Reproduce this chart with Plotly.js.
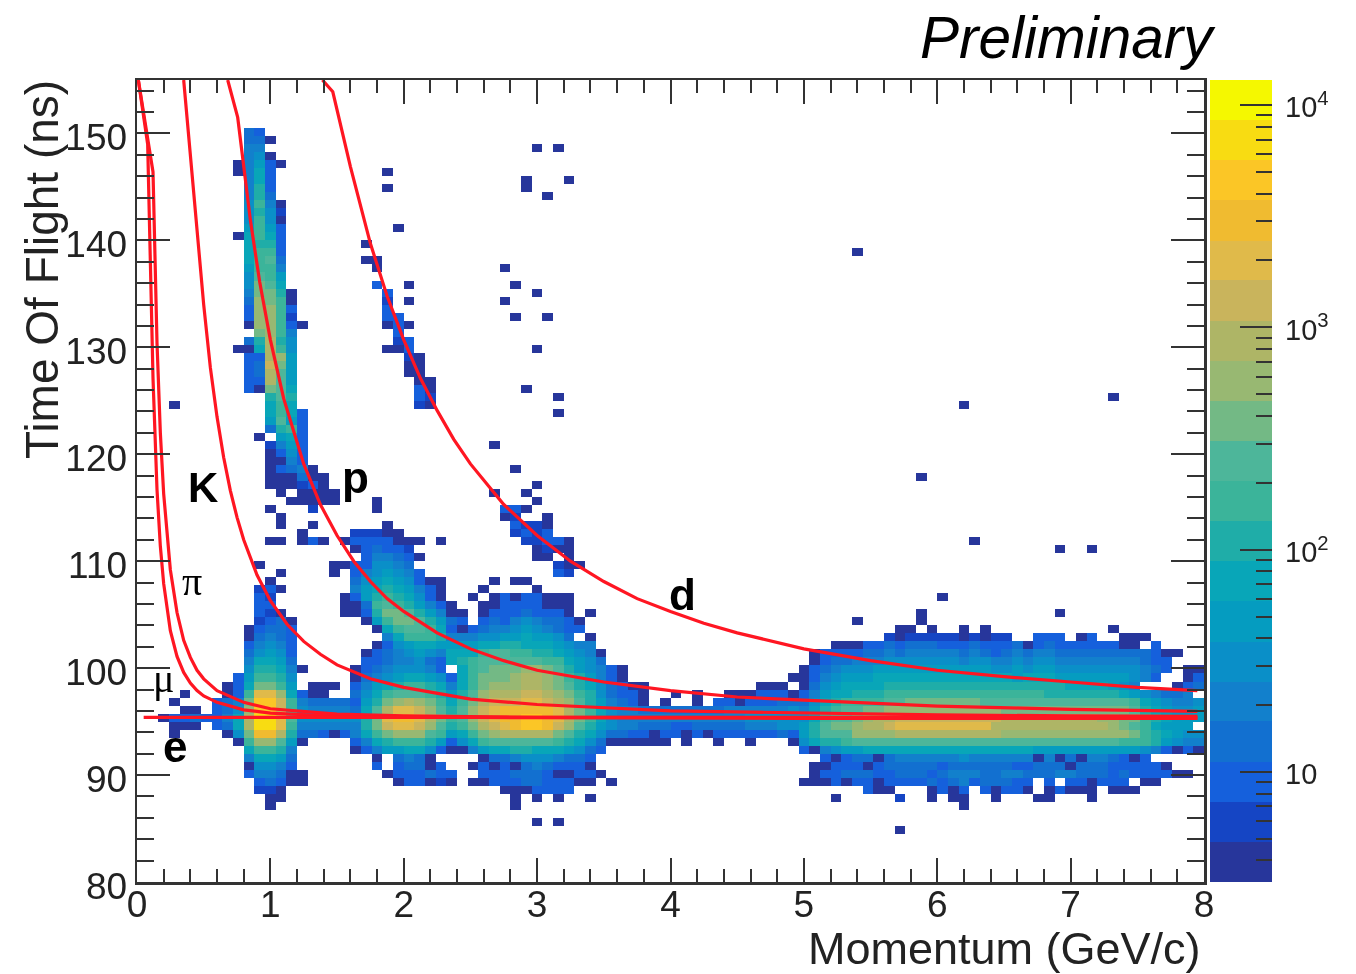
<!DOCTYPE html>
<html>
<head>
<meta charset="utf-8">
<script src="https://cdn.plot.ly/plotly-3.0.1.min.js"></script>
<style>
html,body{margin:0;padding:0;background:#fff}
#plot{width:1356px;height:974px;filter:blur(0.7px)}
</style>
</head>
<body>
<div id="plot"></div>
<script>
// Histogram cells. Each entry: "row col:levels col:levels ..."
// row = time-of-flight bin (0.75 ns wide, from 80 ns), col = momentum bin (0.08 GeV/c wide).
// One character per cell: 1-9,a-k = colour band 1..20 of the palette.
const protonBandRows = [
"93 10:43","92 10:441","91 10:55","90 10:561","89 9:15731","88 9:1583","87 10:583","86 10:593","85 10:594",
"84 10:6a51","83 10:6962","82 10:6a61","81 10:7a73","80 9:18a83","79 10:8993","78 10:8aa3","77 10:8ab4",
"76 10:7aa5","75 10:6ba7","74 10:6cb8","73 10:5cc91","72 10:4dca1","71 10:3dda3","70 10:3dda2","69 10:1dda31",
"68 11:cda5","67 10:49e96","66 9:118ea6","65 10:33ed7","64 10:34fc7","63 10:34eb7","62 10:33eb7","61 10:31cb8",
"60 12:9b9","59 12:8a8","58 12:8a83","57 12:7b73","56 12:49a3","55 11:1 13:783","54 12:2573","53 12:1363",
"52 12:1153","51 12:13451","50 12:111411","49 12:111231","48 13:1 15:1111","47 14:11111","46 12:1 16:2",
"45 13:1","44 13:1 16:1","43 15:1","42 12:11 15:131"];
const deuteronRows = [
"88 23:1","86 23:1","81 24:1","79 21:1","77 21:11","76 22:1","74 22:3 25:1","73 23:3","72 23:2 25:1","71 23:3",
"70 23:33","69 23:131","68 24:3","67 24:23","66 23:113","65 25:21","64 25:11","63 25:11","62 26:11","61 26:31",
"60 26:32","59 26:21",
"49 37:1","48 33:1 36:1","47 37:1","46 34:331","45 34:12 38:1","44 35:3221","43 35:2323","42 28:1 36:22331",
"41 37:1211","40 37:11 40:1"];
const strayRows = [
"91 37:1 39:1","87 36:1 40:1","86 36:1","85 38:1","78 67:1","76 34:1","74 35:1","73 37:1","72 34:1","70 35:1 38:1",
"66 37:1","61 36:1","60 39:1 91:1","59 3:1 77:1","58 39:1","54 33:1","51 35:1","50 73:1","42 78:1","41 86:1 89:1",
"35 75:1","33 73:1 86:1","32 67:1 73:1"];
const kaonPeakRows = [
"39 11:1","38 13:1","37 12:1","36 11:231","35 11:32","34 11:33","33 11:321","32 11:2341","31 10:13443","30 10:14543",
"29 10:35653","28 10:46763","27 10:58874","26 10:699851","25 9:37aa96","24 8:138cca7 16:111","23 4:1 8:13aggd8311",
"22 3:1 7:345ciifa54444","21 4:11 7:346diifa65555","20 2:13343358ejjgb66666","19 3:111 7:348ejjga55555",
"18 3:1 8:16chhe944313","17 9:1addb71","16 10:8aa95","15 10:58874","14 10:16653","13 10:355411","12 11:34311",
"11 11:221","10 12:11","9 12:1"];
const protonPeakRows = [
"47 22:1","46 22:1","44 23:1","43 20:22211","42 19:13333111 28:1","41 20:134332","40 21:355431","39 18:11 20:336654",
"38 18:1 20:3567653","37 20:467876311","36 20:578987531","35 19:1379a98631","34 19:114aba97531","33 19:1139ccb97531",
"32 21:17accb9743","31 22:18abba865","30 23:58aaa9765","29 22:1367887776","28 21:1345676556","27 21:3345564357",
"26 20:134566653","25 20:1456788765","24 20:35789aa987","23 20:468abbba97","22 20:379cdedca8","21 20:48beggfdb9",
"20 20:69cghhgeca","19 20:59cfggfdba","18 20:58acdddba8","17 20:3589aaa973","16 20:1357788633","15 22:1 24:4541",
"14 22:3 24:34413","13 23:1333433","12 24:133121"];
const pionPeakRows = [
"39 39:211","38 39:32","37 33:1 35:11","36 32:1 37:1","35 31:1 33:13133111","34 29:1 32:113333111",
"33 29:1 32:133343331 42:1","32 32:3435654431","31 29:31 31:34556765433","30 29:555667787764 42:1",
"29 29:77788998887655","28 29:888abbaa9987651","27 29:89abbbbbbaa8764","26 30:8abcccddcb976531",
"25 29:38acccdeedca97531","24 29:58acdddeedcb9864311","23 29:79bdeeeffedca964331","22 29:8acefffggfedb975431",
"21 29:9bdfghhhhhgeca8655444","20 29:abdfghhiihgeca865","19 29:9acefghiihfdb97655444","18 29:78acdeeeeecb986443313",
"17 29:368abbbbbba9864111111","16 29:115788998887643","15 32:14456665443","14 31:131314543331",
"13 32:333444311331","12 29:1 31:113334433311 44:1","11 34:1113333","10 35:1 37:1 39:1 42:1","9 35:1","7 37:1 39:1"];
const bridgeRows = [
"25 61:11","24 58:111","23 50:1 52:1 55:1113331","22 49:1 52:1 54:33133344","21 50:444445555556",
"20 46:5555555555566666","19 50:334444455566","18 50:313133333343","17 51:1 54:1 57:1 61:1"];
const highMomentumRows = [
"31 71:11 74:1 77:1 79:1 91:1","30 70:212222212122 84:333 88:13 92:111","29 65:11133434443334333413433333311 95:3",
"28 63:13333445455555454345455444444444311","27 63:1344555666666656655656655555555433",
"26 62:13456667777777777766767766666666543 98:11",
"25 62:1356777888888888888878887777777653 98:13",
"24 62:14678888999999999999999998888765 97:134",
"23 62:35788999aaaaaaaaaaaaaaa99999998765445","22 62:4689aaaabbcccccccbbbbbbbbbbbbbba876556",
"21 62:579abbccdddddddddddccccccccccccb987667","20 62:68abbcdeeffffffffffeeeeeeeeeddcca98777",
"19 62:79bccdeefgggggggggeeeeeeeeeeedcba8777","18 62:79bbbddddeeeeeeeeeeddddddddddddca98766",
"17 62:6899abbbbbbbbbbbbbbbbbbbbbbbbbaaa976555","16 62:31567788888888888888887777777777653131",
"15 64:3 65:134414555555655555515141554313","14 63:1133313444443444444334441444333331",
"13 63:133444334443455544554445544434333311",
"12 62:111313313333 74:4345344433 85:3 87:33 89:1333 94:11",
"11 68:311 74:1313 79:31331 85:13111 91:111","10 65:1 71:2 74:1 76:11 80:1 84:11 89:1","9 77:1","6 71:1"];

// Representative count for each colour band
const bandCounts = [4,6,9,14,21,31,47,72,109,165,250,380,575,870,1320,2000,3030,4590,6960,10500];
// Edges of the colour bands on the count scale
const bandEdges = [3.2,4.84,7.35,11.1,16.9,25.5,38.6,58.6,88.7,134.6,203.7,308,468,708,1074,1626,2460,3733,5649,8570,12970];
const bandColors = ["#27369b","#1545c4","#1560dc","#1270d0","#1280cc","#0a8fc8","#059cc0","#08a6b8","#1fada8","#3bb49a",
"#4db69a","#73b985","#98b872","#aeb566","#c9b45c","#e0ba4a","#f0bb30","#fbc626","#f8dc12","#f5f800"];
const countTicks = [10,100,1000,10000];
const countTickText = ["10","10<sup>2</sup>","10<sup>3</sup>","10<sup>4</sup>"];
const countMinorTicks = [4,5,6,7,8,9,20,30,40,50,60,70,80,90,200,300,400,500,600,700,800,900,2000,3000,4000,5000,6000,7000,8000,9000];

// Red expected-time curves
const eP   = [0.05,7.95];
const eT   = [95.4,95.4];
const muP  = [0.01,0.08,0.12,0.15,0.175,0.2,0.25,0.3,0.35,0.4,0.45,0.5,0.6,0.8,1,1.5,2,3,5,7.95];
const muT  = [155,149,127.1,116.7,111.4,107.9,103.5,101.1,99.6,98.6,97.9,97.4,96.8,96.1,95.8,95.5,95.43,95.36,95.31,95.3];
const piP  = [0.01,0.12,0.15,0.175,0.2,0.25,0.3,0.35,0.4,0.45,0.5,0.6,0.8,1,1.5,2,3,5,7.95];
const piT  = [155,146.4,130.4,122,116.3,109.2,105.2,102.6,101,99.8,99,97.9,96.8,96.2,95.7,95.53,95.4,95.33,95.3];
const kP   = [0.35,0.5,0.55,0.6,0.65,0.7,0.75,0.8,0.9,1,1.125,1.25,1.375,1.5,1.75,2,2.5,3,4,5,6,7,7.95];
const kT   = [155,134,128.1,123.5,119.7,116.6,114.1,112,108.7,106.3,104.1,102.5,101.3,100.3,99,98.2,97.1,96.6,96,95.8,95.62,95.54,95.5];
const pP   = [0.68,0.755,0.85,0.92,1,1.1,1.25,1.375,1.5,1.625,1.75,1.875,2,2.25,2.5,2.75,3,3.5,4,4.5,5,6,7,7.95];
const pT   = [155,151.5,141.9,136.1,130.7,125.2,119.1,115.3,112.4,110,108.1,106.5,105.3,103.3,101.8,100.7,99.8,98.7,97.9,97.3,97,96.45,96.15,95.95];
const dP   = [1.39,1.468,1.6,1.75,1.875,2,2.125,2.25,2.375,2.5,2.75,3,3.25,3.5,3.75,4,4.25,4.5,5,5.5,6,6.5,7,7.5,7.95];
const dT   = [155,153.9,146.9,139.7,134.8,130.7,127.1,124.1,121.4,119.1,115.3,112.4,110,108.1,106.5,105.3,104.2,103.3,101.8,100.7,99.8,99.2,98.7,98.2,97.9];

const NBINS = 100;
const bandChars = "123456789abcdefghijk";
const z = Array.from({length:NBINS},()=>Array(NBINS).fill(null));
[protonBandRows,deuteronRows,strayRows,kaonPeakRows,protonPeakRows,pionPeakRows,bridgeRows,highMomentumRows].forEach(group=>{
  group.forEach(entry=>{
    const parts = entry.split(" ");
    const row = +parts[0];
    parts.slice(1).forEach(seg=>{
      const [col,levels] = seg.split(":");
      [...levels].forEach((ch,i)=>{
        const c = +col+i;
        if(c<NBINS) z[row][c] = Math.log10(bandCounts[bandChars.indexOf(ch)]);
      });
    });
  });
});

const zMin = Math.log10(bandEdges[0]), zMax = Math.log10(bandEdges[bandEdges.length-1]);
const colorscale = [];
bandColors.forEach((c,i)=>{
  colorscale.push([i/bandColors.length,c]);
  colorscale.push([(i+1)/bandColors.length,c]);
});

const curve = (x,y)=>({type:"scatter",mode:"lines",x,y,hoverinfo:"skip",
  line:{color:"#ff1622",width:3.2,shape:"linear"}});

const traces = [
 {type:"heatmap",z,x0:0.04,dx:0.08,y0:80.375,dy:0.75,colorscale,zmin:zMin,zmax:zMax,showscale:false,hoverongaps:false,zsmooth:false},
 curve(dP,dT),curve(pP,pT),curve(kP,kT),curve(piP,piT),curve(muP,muT),curve(eP,eT),
 {type:"heatmap",xaxis:"x2",yaxis:"y2",x:[0,1],y:bandEdges,z:bandCounts.map(v=>[Math.log10(v)]),colorscale,zmin:zMin,zmax:zMax,showscale:false,hoverinfo:"skip"}
];

const W=1356,H=974;
const ink="#333333";
const sans="Liberation Sans, Arial, sans-serif";
const tickFont={family:sans,size:37,color:"#222"};
const label=(text,x,y,size,family,weight)=>({text,x,y,xref:"x",yref:"y",showarrow:false,
  font:{family,size,color:"#000",weight:weight||400}});

const layout = {
 width:W,height:H,paper_bgcolor:"#fff",plot_bgcolor:"#fff",showlegend:false,
 margin:{l:0,r:0,t:0,b:0,autoexpand:false},
 xaxis:{domain:[137/W,1204/W],range:[0,8],tickmode:"array",tickvals:[0,1,2,3,4,5,6,7,8],ticks:"inside",ticklen:24,tickwidth:2,
   tickcolor:ink,linecolor:ink,linewidth:2.5,mirror:"ticks",showgrid:false,zeroline:false,tickfont:tickFont,ticklabelstandoff:-12,
   minor:{dtick:0.2,tick0:0,ticks:"inside",ticklen:13,tickwidth:2,tickcolor:ink,showgrid:false},anchor:"y"},
 yaxis:{domain:[1-882/H,1-80/H],range:[80,155],tickmode:"array",tickvals:[80,90,100,110,120,130,140,150],ticks:"inside",ticklen:33,tickwidth:2,
   tickcolor:ink,linecolor:ink,linewidth:2.5,mirror:"ticks",showgrid:false,zeroline:false,tickfont:tickFont,ticklabelshift:4,
   minor:{dtick:2,tick0:80,ticks:"inside",ticklen:17,tickwidth:2,tickcolor:ink,showgrid:false},anchor:"x"},
 xaxis2:{domain:[1210/W,1272/W],range:[0,1],visible:false,anchor:"y2"},
 yaxis2:{domain:[1-882/H,1-80/H],type:"log",range:[zMin,zMax],side:"right",anchor:"x2",tickmode:"array",tickvals:countTicks,ticktext:countTickText,
   ticks:"inside",ticklen:32,tickwidth:2,tickcolor:ink,showgrid:false,zeroline:false,showline:false,ticklabelstandoff:12,ticklabelshift:2,
   tickfont:{family:sans,size:29,color:"#222"},
   minor:{tickmode:"array",tickvals:countMinorTicks,ticks:"inside",ticklen:16,tickwidth:2,tickcolor:ink,showgrid:false}},
 annotations:[
  {text:"Preliminary",xref:"paper",yref:"paper",x:1218/W,y:1-38/H,xanchor:"right",yanchor:"middle",showarrow:false,
   font:{family:sans,size:58.5,color:"#000",style:"italic"}},
  {text:"Momentum (GeV/c)",xref:"paper",yref:"paper",x:1203/W,y:1-948/H,xanchor:"right",yanchor:"middle",showarrow:false,
   font:{family:sans,size:45,color:"#222"}},
  {text:"Time Of Flight (ns)",xref:"paper",yref:"paper",x:42/W,y:1-270/H,xanchor:"center",yanchor:"middle",textangle:-90,showarrow:false,
   font:{family:sans,size:46,color:"#222"}},
  label("K",0.495,116.9,42,sans,700),
  label("p",1.635,117.8,44,sans,700),
  label("d",4.09,106.9,44,sans,700),
  label("e",0.285,92.7,44,sans,700),
  label("π",0.41,108.1,40,"Liberation Serif, serif",400),
  label("μ",0.195,99,40,"Liberation Serif, serif",400)
 ]
};
Plotly.newPlot("plot",traces,layout,{staticPlot:true,displayModeBar:false});
</script>
</body>
</html>
